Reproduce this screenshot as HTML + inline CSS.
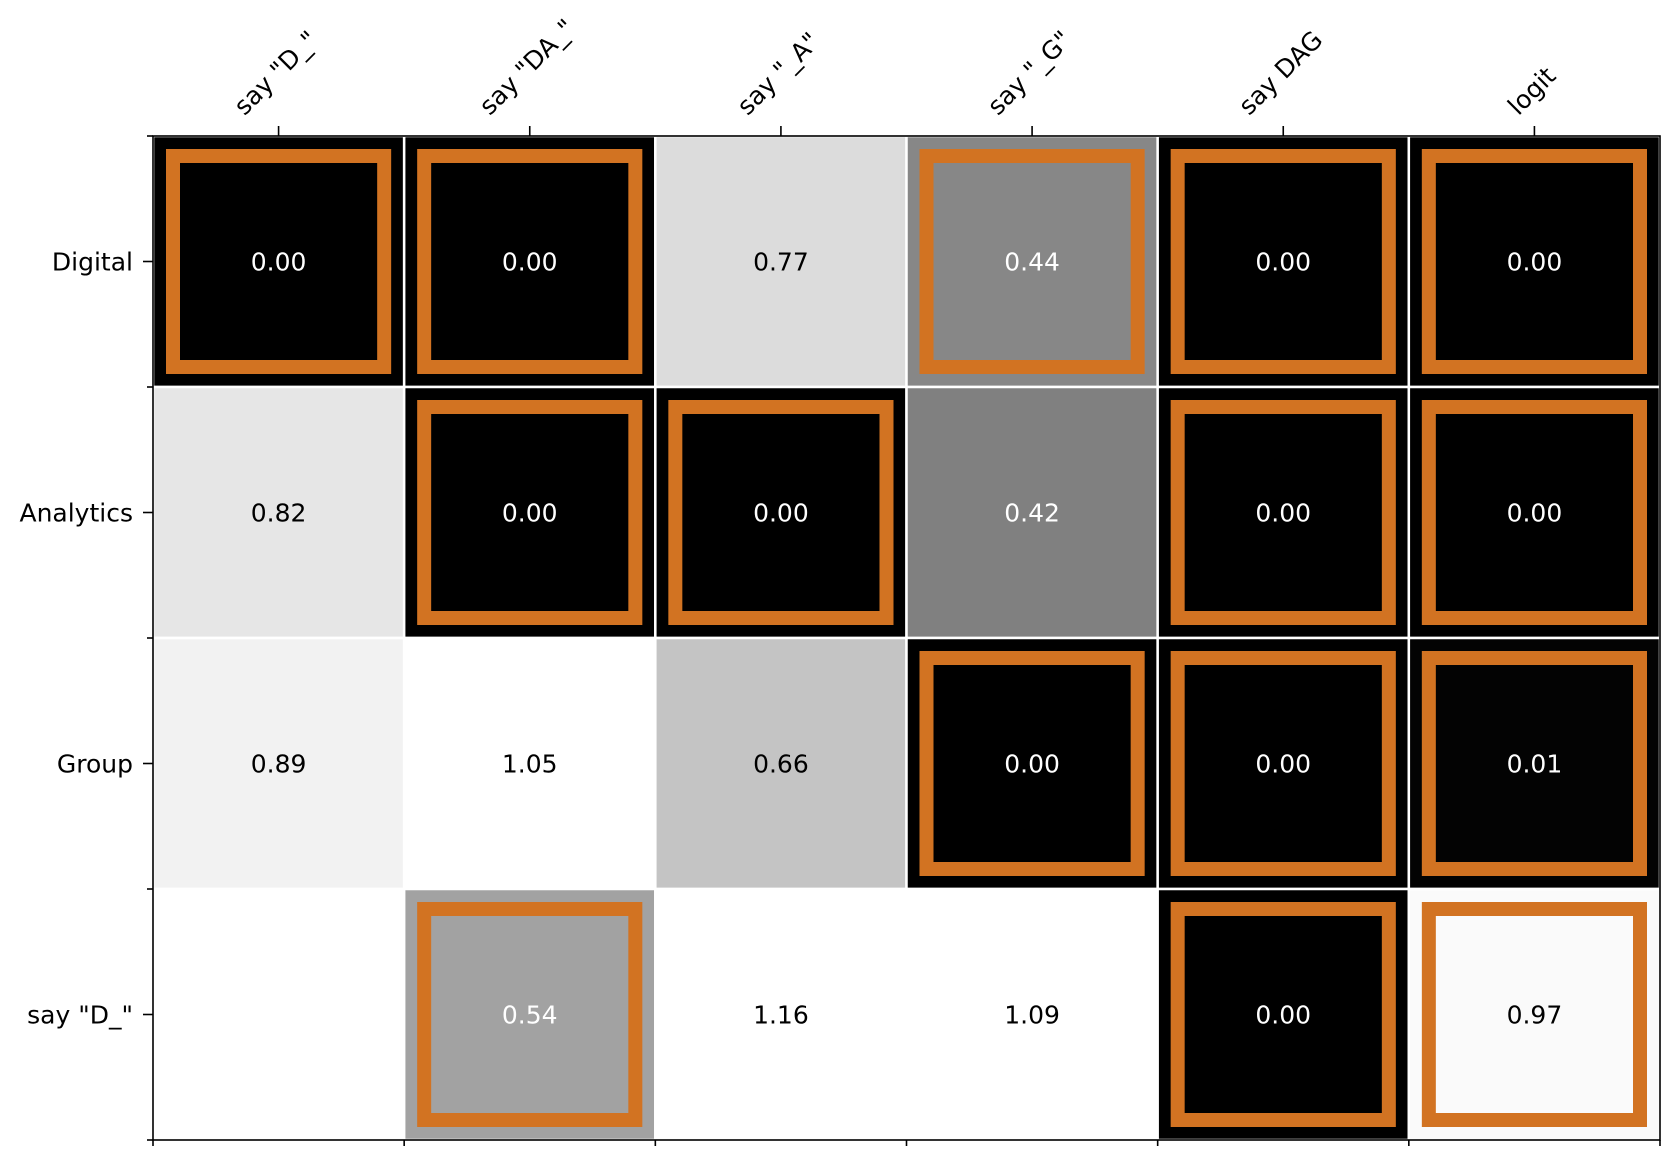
<!DOCTYPE html>
<html><head><meta charset="utf-8">
<style>
html,body{margin:0;padding:0;background:#fff;}
svg{display:block;}
text{font-family:"DejaVu Sans","Liberation Sans",sans-serif;font-size:25px;}
</style></head>
<body>
<svg id="chart" width="1679" height="1166" viewBox="0 0 1679 1166" xmlns="http://www.w3.org/2000/svg">
<g id="cells"></g>
<g id="axes"></g>
</svg>
<script>
const columns = ['say "D_"', 'say "DA_"', 'say "_A"', 'say "_G"', 'say DAG', 'logit'];
const rows = ['Digital', 'Analytics', 'Group', 'say "D_"'];
const values = [
  [0.00, 0.00, 0.77, 0.44, 0.00, 0.00],
  [0.82, 0.00, 0.00, 0.42, 0.00, 0.00],
  [0.89, 1.05, 0.66, 0.00, 0.00, 0.01],
  [null, 0.54, 1.16, 1.09, 0.00, 0.97]
];
const highlighted = [
  [1, 1, 0, 1, 1, 1],
  [0, 1, 1, 0, 1, 1],
  [0, 0, 0, 1, 1, 1],
  [0, 1, 0, 0, 1, 1]
];
// colormap anchors (value -> gray level)
const cmapVals = [0, 0.42, 0.44, 0.54, 0.66, 0.77, 0.82, 0.89, 0.97, 1.0];
const cmapGray = [0, 128, 135, 162, 196, 220, 230, 242, 250, 255];

const NS = 'http://www.w3.org/2000/svg';
const L = 153, T = 136, R = 1660, B = 1140;
const cw = (R - L) / columns.length, ch = (B - T) / rows.length;
const xPos = i => L + i * cw;
const yPos = j => T + j * ch;
function gray(v) {
  if (v === null) return 255;
  if (v >= cmapVals[cmapVals.length - 1]) return 255;
  for (let k = 1; k < cmapVals.length; k++) {
    if (v <= cmapVals[k]) {
      const t = (v - cmapVals[k - 1]) / (cmapVals[k] - cmapVals[k - 1]);
      return Math.round(cmapGray[k - 1] + t * (cmapGray[k] - cmapGray[k - 1]));
    }
  }
  return 255;
}
function mk(tag, attrs, parent) {
  const e = document.createElementNS(NS, tag);
  for (const k in attrs) e.setAttribute(k, attrs[k]);
  parent.appendChild(e);
  return e;
}
const gC = document.getElementById('cells');
const gA = document.getElementById('axes');
rows.forEach((r, j) => {
  columns.forEach((c, i) => {
    const v = values[j][i];
    const g = gray(v);
    const rect = mk('rect', {x: xPos(i), y: yPos(j), width: cw, height: ch, fill: `rgb(${g},${g},${g})`, stroke: '#fff', 'stroke-width': 2.5}, gC);
    
    
    if (highlighted[j][i]) {
      const hb = mk('rect', {x: xPos(i) + 20, y: yPos(j) + 20, width: cw - 40, height: ch - 40, fill: 'none', stroke: '#d27322', 'stroke-width': 14}, gC);
      
      
    }
    if (v !== null) {
      const t = mk('text', {x: xPos(i) + cw / 2, y: yPos(j) + ch / 2 + 9, 'text-anchor': 'middle', fill: g < 170 ? '#fff' : '#000'}, gC);
      t.textContent = v.toFixed(2);
      
      
    }
  });
});
const fr = mk('rect', {x: L, y: T, width: R - L, height: B - T, fill: 'none', stroke: '#000', 'stroke-width': 1.6}, gA);


columns.forEach((c, i) => {
  const cx = xPos(i) + cw / 2;
  const tk = mk('line', {x1: cx, x2: cx, y1: T, y2: T - 10, stroke: '#000', 'stroke-width': 1.6}, gA);
  
  
  const t = mk('text', {x: 0, y: 0, 'text-anchor': 'middle', fill: '#000'}, gA);
  t.textContent = c;
  
  
  const len = t.getComputedTextLength();
  const cy = 120 - len * 0.354 - 10;
  t.setAttribute('x', cx - 3);
  t.setAttribute('y', cy + 9);
  t.setAttribute('transform', `rotate(-45 ${cx - 3} ${cy})`);
});
for (let i = 0; i <= columns.length; i++) {
  const mt = mk('line', {x1: xPos(i), x2: xPos(i), y1: B, y2: B + 6, stroke: '#000', 'stroke-width': 1.6}, gA);
  
  
}
rows.forEach((r, j) => {
  const cy = yPos(j) + ch / 2;
  const tk = mk('line', {x1: L, x2: L - 10, y1: cy, y2: cy, stroke: '#000', 'stroke-width': 1.6}, gA);
  
  
  const t = mk('text', {x: L - 20, y: cy + 9, 'text-anchor': 'end', fill: '#000'}, gA);
  t.textContent = r;
  
  
});
for (let j = 0; j <= rows.length; j++) {
  const mt = mk('line', {x1: L, x2: L - 6, y1: yPos(j), y2: yPos(j), stroke: '#000', 'stroke-width': 1.6}, gA);
  
  
}
</script>
</body></html>
